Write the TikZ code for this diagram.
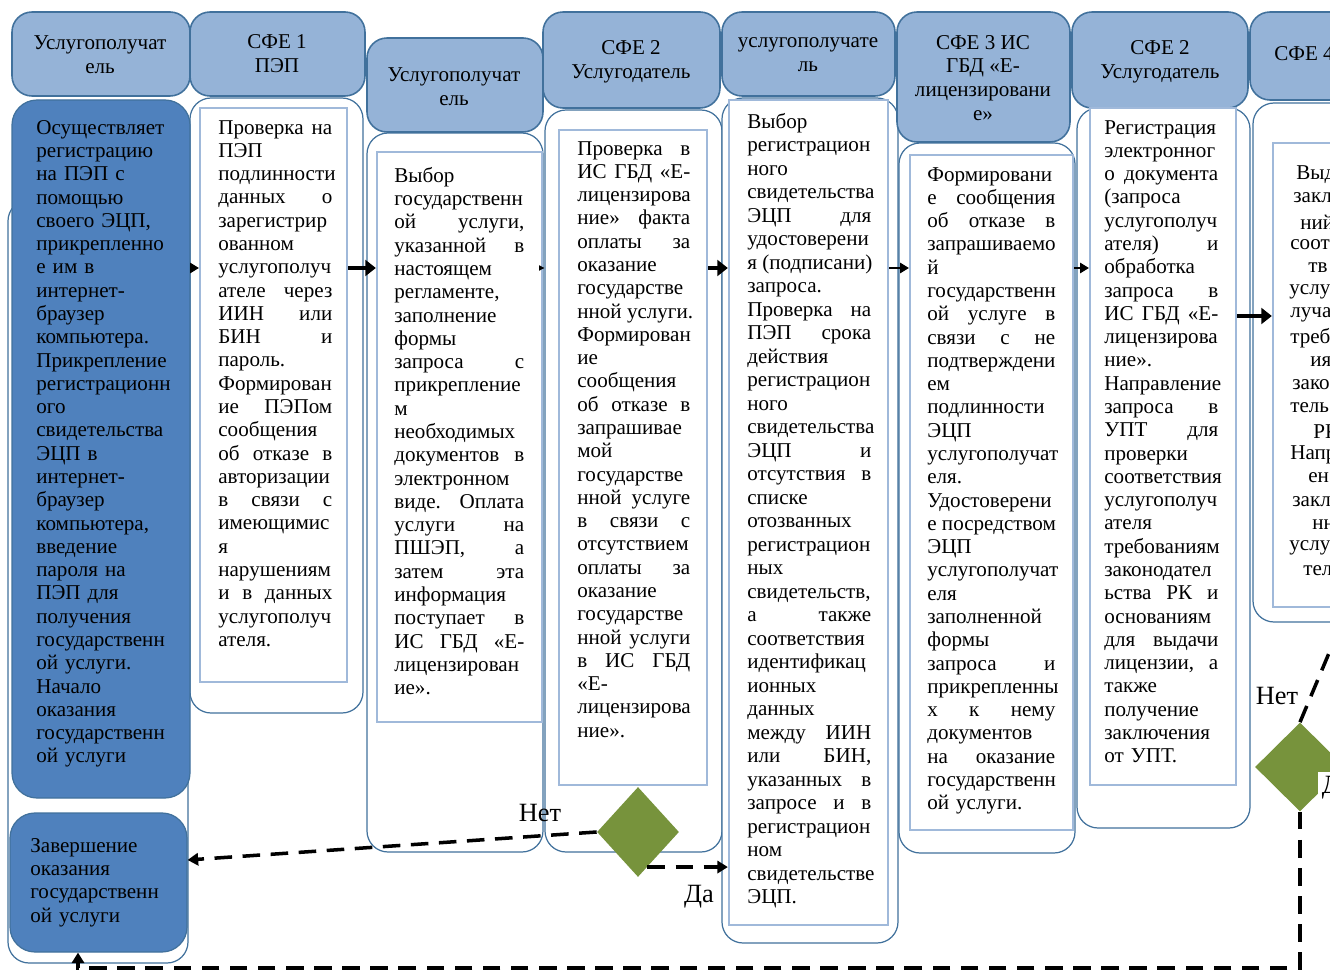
\documentclass[tikz,border=0pt]{standalone}
\usepackage{fontspec}
\setmainfont{Liberation Serif}
\usetikzlibrary{shapes.geometric,arrows.meta,fit}

\definecolor{headfill}{RGB}{149,179,215}
\definecolor{laneline}{RGB}{65,113,156}
\definecolor{dobfill}{RGB}{79,129,189}
\definecolor{innerline}{RGB}{160,185,218}
\definecolor{diafill}{RGB}{119,147,60}

\newlength\colw
\newcommand\jl[1]{{\spaceskip=.25em plus 1fil\xspaceskip=.25em plus 1fil\makebox[\colw][s]{#1}}}
\hyphenpenalty=10000

\begin{document}
\begin{tikzpicture}[x=0.02cm,y=-0.02cm]
\tikzstyle{lane}=[draw=laneline,line width=0.7pt,fill=white,rounded corners=0.42cm,inner sep=0pt]
\tikzstyle{head}=[draw=laneline,line width=0.9pt,fill=headfill,rounded corners=0.4cm,inner sep=0pt]
\tikzstyle{headtxt}=[align=center,inner sep=0pt,font=\fontsize{12}{13.6}\selectfont]
\tikzstyle{inbox}=[draw=innerline,line width=1.3pt,fill=white,inner sep=0pt]
\tikzstyle{dbox}=[draw=laneline,line width=0.7pt,fill=dobfill,rounded corners=0.5cm,inner sep=0pt]
\tikzstyle{txt}=[anchor=north west,inner sep=0pt,align=left,font=\fontsize{12}{13.25}\selectfont,text width=#1,execute at begin node={\setlength\colw{#1}}]
\tikzstyle{dia}=[diamond,fill=diafill,inner sep=0pt]
\tikzstyle{lbl}=[inner sep=2pt,font=\fontsize{15}{18}\selectfont]
\tikzstyle{smallarr}=[line width=0.6pt,-{Triangle[length=5pt,width=6pt]}]
\tikzstyle{bigarr}=[line width=2pt,-{Triangle[length=6pt,width=9pt]}]
\tikzstyle{dasharr}=[line width=2pt,dash pattern=on 10pt off 6pt,-{Triangle[length=6pt,width=7pt]}]

\useasboundingbox (0,0) rectangle (1330,976);
\clip (0,0) rectangle (1330,976);

\node[lane,fit={(8,200) (188,963)}] (l1) {};
\node[lane,fit={(190,98) (363,713)}] (l2) {};
\node[lane,fit={(367,133) (543,852)}] (l3) {};
\node[lane,fit={(545,110) (722,852)}] (l4) {};
\node[lane,fit={(722,98) (898,943)}] (l5) {};
\node[lane,fit={(899,143) (1075,853)}] (l6) {};
\node[lane,fit={(1077,108) (1250,828)}] (l7) {};
\node[lane,fit={(1253,103) (1420,622)}] (l8) {};

\node[head,fit={(12,12) (190,96)}] (h1) {};
\node[head,fit={(190,12) (365,96)}] (h2) {};
\node[head,fit={(367,38) (543,132)}] (h3) {};
\node[head,fit={(543,12) (720,108)}] (h4) {};
\node[head,fit={(722,12) (895,96)}] (h5) {};
\node[head,fit={(897,12) (1070,142)}] (h6) {};
\node[head,fit={(1072,12) (1248,108)}] (h7) {};
\node[head,fit={(1250,12) (1420,100)}] (h8) {};
\node[headtxt] (h1t) at (100,55) {Услугополучат\\ель};
\node[headtxt] (h2t) at (277,54) {СФЕ 1\\ПЭП};
\node[headtxt] (h3t) at (454,87) {Услугополучат\\ель};
\node[headtxt] (h4t) at (631,62) {СФЕ 2\\Услугодатель};
\node[headtxt] (h5t) at (808,55) {услугополучате\\ль};
\node[headtxt] (h6t) at (983,78) {СФЕ 3 ИС\\ГБД «Е-\\лицензировани\\е»};
\node[headtxt] (h7t) at (1160,62) {СФЕ 2\\Услугодатель};
\node[headtxt,anchor=west] (h8t) at (1274,54) {СФЕ 4};

\node[dbox,fit={(12,100) (190,798)}] (start) {};
\node[dbox,fit={(10,813) (187,952)}] (end) {};
\node[inbox,fit={(200,108) (347,682)}] (in2) {};
\node[inbox,fit={(377,152) (542,722)}] (in3) {};
\node[inbox,fit={(559,130) (707,785)}] (in4) {};
\node[inbox,fit={(729,100) (888,925)}] (in5) {};
\node[inbox,fit={(910,155) (1073,830)}] (in6) {};
\node[inbox,fit={(1090,108) (1236,785)}] (in7) {};
\node[inbox,fit={(1273,143) (1420,607)}] (in8) {};

\node[txt=3.1cm] (t1) at (36,120) {Осуществляет\\ регистрацию\\ на ПЭП с\\ помощью\\ своего ЭЦП,\\ прикрепленно\\ е им в\\ интернет-\\ браузер\\ компьютера.\\ Прикрепление\\ регистрационн\\ ого\\ свидетельства\\ ЭЦП в\\ интернет-\\ браузер\\ компьютера,\\ введение\\ пароля на\\ ПЭП для\\ получения\\ государственн\\ ой услуги.\\ Начало\\ оказания\\ государственн\\ ой услуги};
\node[txt=3.1cm] (t1e) at (30,838) {Завершение\\ оказания\\ государственн\\ ой услуги};
\node[txt=2.28cm] (t2) at (218,120) {\jl{Проверка на}\\ ПЭП\\ подлинности\\ \jl{данных о}\\ зарегистрир\\ ованном\\ услугополуч\\ \jl{ателе через}\\ \jl{ИИН или}\\ \jl{БИН и}\\ пароль.\\ Формирован\\ \jl{ие ПЭПом}\\ сообщения\\ \jl{об отказе в}\\ авторизации\\ \jl{в связи с}\\ имеющимис\\ я\\ нарушениям\\ \jl{и в данных}\\ услугополуч\\ ателя.};
\node[txt=2.6cm] (t3) at (394,167) {Выбор\\ государственн\\ \jl{ой услуги,}\\ \jl{указанной в}\\ настоящем\\ регламенте,\\ заполнение\\ формы\\ \jl{запроса с}\\ прикрепление\\ м\\ необходимых\\ \jl{документов в}\\ электронном\\ \jl{виде. Оплата}\\ \jl{услуги на}\\ \jl{ПШЭП, а}\\ \jl{затем эта}\\ информация\\ \jl{поступает в}\\ \jl{ИС ГБД «Е-}\\ лицензирован\\ ие».};
\node[txt=2.26cm] (t4) at (577,141) {\jl{Проверка в}\\ \jl{ИС ГБД «Е-}\\ лицензирова\\ \jl{ние» факта}\\ \jl{оплаты за}\\ оказание\\ государстве\\ \jl{нной услуги.}\\ Формирован\\ ие\\ сообщения\\ \jl{об отказе в}\\ запрашивае\\ мой\\ государстве\\ \jl{нной услуге}\\ \jl{в связи с}\\ отсутствием\\ \jl{оплаты за}\\ оказание\\ государстве\\ \jl{нной услуги}\\ \jl{в ИС ГБД}\\ «Е-\\ лицензирова\\ ние».};
\node[txt=2.48cm,font=\fontsize{12}{13.37}\selectfont] (t5) at (747,113) {Выбор\\ регистрацион\\ ного\\ свидетельства\\ \jl{ЭЦП для}\\ удостоверени\\ \jl{я (подписани)}\\ запроса.\\ \jl{Проверка на}\\ \jl{ПЭП срока}\\ действия\\ регистрацион\\ ного\\ свидетельства\\ \jl{ЭЦП и}\\ \jl{отсутствия в}\\ списке\\ отозванных\\ регистрацион\\ ных\\ свидетельств,\\ \jl{а также}\\ соответствия\\ идентификац\\ ионных\\ данных\\ \jl{между ИИН}\\ \jl{или БИН,}\\ \jl{указанных в}\\ \jl{запросе и в}\\ регистрацион\\ ном\\ свидетельстве\\ ЭЦП.};
\node[txt=2.56cm] (t6) at (927,167) {Формировани\\ \jl{е сообщения}\\ \jl{об отказе в}\\ запрашиваемо\\ й\\ государственн\\ \jl{ой услуге в}\\ \jl{связи с не}\\ подтверждени\\ ем\\ подлинности\\ ЭЦП\\ услугополучат\\ еля.\\ Удостоверени\\ \jl{е посредством}\\ ЭЦП\\ услугополучат\\ еля\\ заполненной\\ формы\\ \jl{запроса и}\\ прикрепленны\\ \jl{х к нему}\\ документов\\ \jl{на оказание}\\ государственн\\ ой услуги.};
\node[txt=2.28cm] (t7) at (1104,120) {Регистрация\\ электронног\\ \jl{о документа}\\ (запроса\\ услугополуч\\ \jl{ателя) и}\\ обработка\\ \jl{запроса в}\\ \jl{ИС ГБД «Е-}\\ лицензирова\\ ние».\\ Направление\\ \jl{запроса в}\\ \jl{УПТ для}\\ проверки\\ соответствия\\ услугополуч\\ ателя\\ требованиям\\ законодател\\ \jl{ьства РК и}\\ основаниям\\ \jl{для выдачи}\\ \jl{лицензии, а}\\ также\\ получение\\ заключения\\ от УПТ.};
\foreach \x/\y/\w [count=\n] in {1296/175/Выд,1293/198/закл,1300/222/ний,1290/245/соот,1308/268/тв,1289/292/услу,1290/315/луча,1290/338/треб,1310/362/ия,1292/385/зако,1290/408/тель,1313/432/РК,1290/455/Напр,1308/478/ен,1292/502/закл,1312/525/нн,1289/548/услу,1303/571/тел}
  \node[anchor=west,inner sep=0pt,font=\fontsize{12}{13.25}\selectfont] (t8-\n) at (\x,\y) {\w};

\coordinate (y268) at (0,268);
\coordinate (y316) at (0,316);
\coordinate (y860) at (0,860);
\coordinate (b1) at (78,968);
\coordinate (nout) at (1345,615);

\draw[smallarr] (start.east |- y268) -- (in2.west |- y268);
\draw[bigarr] (in2.east |- y268) -- (in3.west |- y268);
\draw[line width=0.4pt,-{Triangle[length=3pt,width=3pt]}] (in3.east |- y268) -- (l4.west |- y268);
\draw[bigarr] (in4.east |- y268) -- (in5.west |- y268);
\draw[smallarr] (in5.east |- y268) -- (in6.west |- y268);
\draw[smallarr] (in6.east |- y268) -- (in7.west |- y268);
\draw[bigarr] (in7.east |- y316) -- (in8.west |- y316);

\node[dia,minimum width=1.64cm,minimum height=1.8cm] (d1) at (638,832) {};
\node[dia,minimum width=1.8cm,minimum height=1.78cm] (d2) at (1300,767) {};

\draw[dasharr] (d1.west) -- (end.east |- y860);
\draw[dasharr] (d1.-75) -- (d1.-75 -| in5.west);
\draw[line width=2pt,dash pattern=on 10pt off 6pt] (d2.north) -- (nout);
\draw[dasharr] (d2.south) |- (b1) -- (b1 |- end.south);

\node[lbl] (net1) at (540,813) {Нет};
\node[lbl] (da1) at (699,897) {Да};
\node[lbl,fill=white] (net2) at (1277,696) {Нет};
\node[lbl,fill=white,anchor=north west] (da2) at (1318,772) {Да};
\end{tikzpicture}
\end{document}
